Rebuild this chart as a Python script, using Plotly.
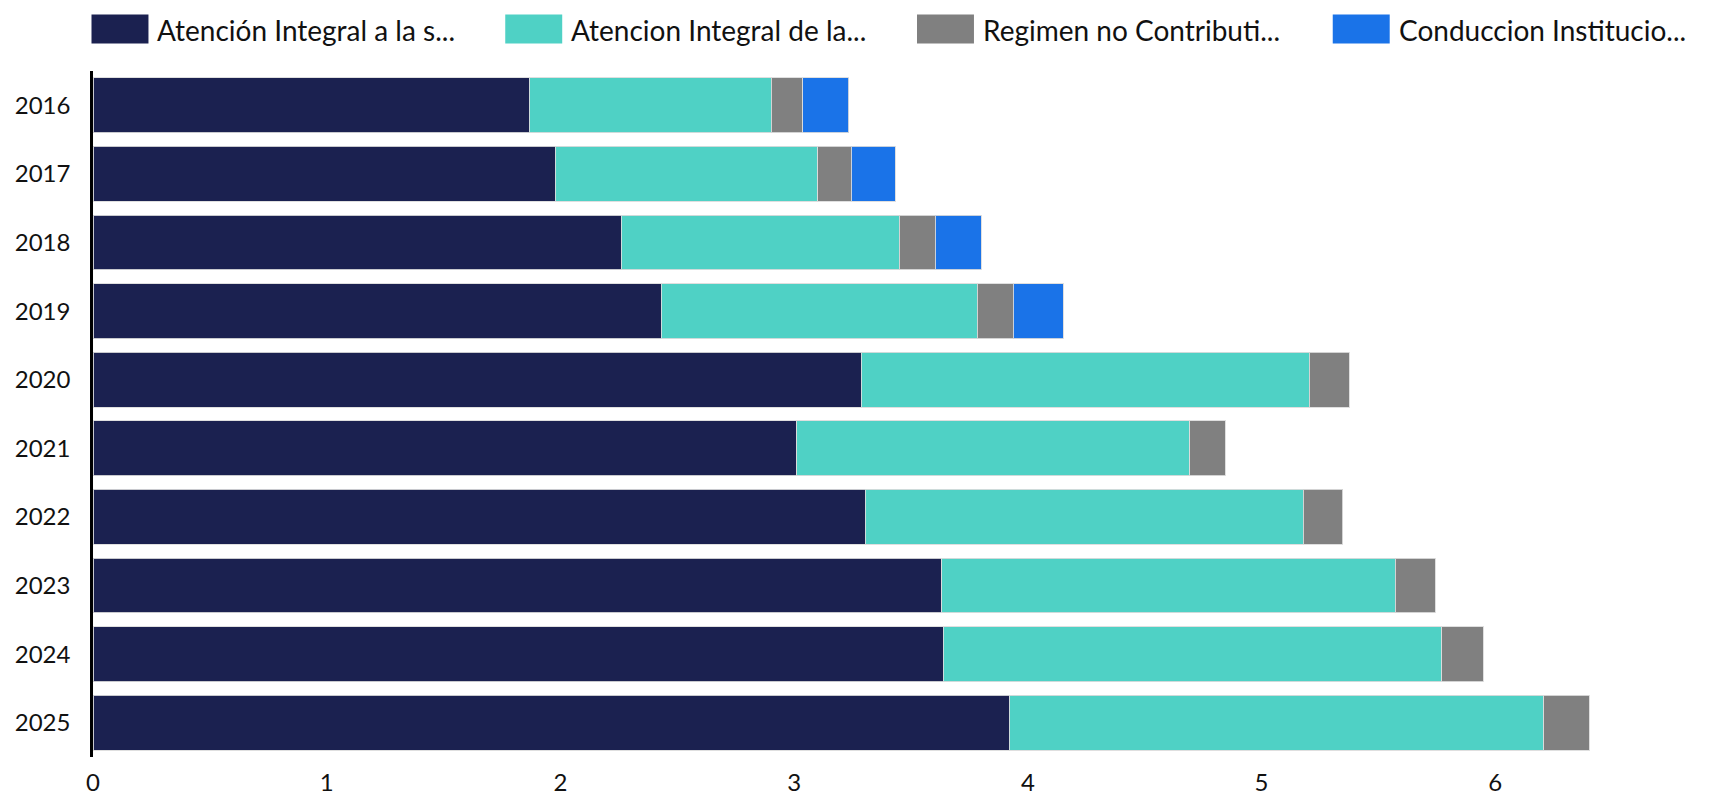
import plotly.graph_objects as go

years = ["2016", "2017", "2018", "2019", "2020", "2021", "2022", "2023", "2024", "2025"]
series_names = [
    "Atención Integral a la s...",
    "Atencion Integral de la...",
    "Regimen no Contributi...",
    "Conduccion Institucio...",
]
atencion_salud = [1.866, 1.978, 2.261, 2.431, 3.288, 3.012, 3.305, 3.632, 3.639, 3.921]
atencion_familia = [1.037, 1.122, 1.189, 1.353, 1.915, 1.681, 1.874, 1.940, 2.132, 2.287]
regimen = [0.134, 0.145, 0.154, 0.154, 0.172, 0.152, 0.169, 0.172, 0.177, 0.194]
conduccion = [0.197, 0.187, 0.197, 0.213, None, None, None, None, None, None]
colors = ["#1B2150", "#4FD1C5", "#808080", "#1A73E8"]
x_ticks = [0, 1, 2, 3, 4, 5, 6, 7]

# page body has an 8px offset; work in screen coordinates and compensate
OFF = 8
W, H = 1726, 796
P_L, P_R, P_T, P_B = 92.5, 1729.5, 71.4, 757.5  # plot area in screen px
ML, MT = P_L - OFF, P_T - OFF
MR = W - (P_R - OFF)
MB = H - (P_B - OFF)
PW, PH = P_R - P_L, P_B - P_T

fig = go.Figure()
for name, vals, col in zip(series_names, [atencion_salud, atencion_familia, regimen, conduccion], colors):
    fig.add_trace(go.Bar(
        y=years, x=vals, name=name, orientation="h",
        marker=dict(color=col, line=dict(color="rgba(220,220,220,0.9)", width=1)),
        showlegend=False,
    ))


def px_x(p):
    return (p - P_L) / PW


def px_y(p):
    return (P_B - p) / PH


# custom legend (large square swatches), screen coordinates
leg_x = [91, 505, 917, 1333]
for name, col, lx in zip(series_names, colors, leg_x):
    fig.add_shape(type="rect", xref="paper", yref="paper",
                  x0=px_x(lx), x1=px_x(lx + 57), y0=px_y(44), y1=px_y(15),
                  fillcolor=col, line=dict(width=0))
    fig.add_annotation(xref="paper", yref="paper", x=px_x(lx + 64), y=px_y(30),
                       text=name, showarrow=False, xanchor="left", yanchor="middle",
                       font=dict(family="Lato", size=28, color="#111"))

fig.update_layout(
    width=W, height=H,
    barmode="stack", bargap=0.2,
    plot_bgcolor="white", paper_bgcolor="white",
    margin=dict(l=ML, r=MR, t=MT, b=MB, autoexpand=False),
    font=dict(family="Lato", size=24, color="#111"),
    xaxis=dict(range=[0, 7], tickvals=x_ticks, showgrid=False, zeroline=False,
               showline=False, ticks="", ticklabelstandoff=9, automargin=False,
               ticklabeloverflow="allow", tickfont=dict(family="Lato", size=24)),
    yaxis=dict(autorange="reversed", showgrid=False, showline=True,
               linecolor="black", linewidth=2.5, ticks="", ticklabelstandoff=15,
               automargin=False, tickfont=dict(family="Lato", size=24)),
)

fig.write_html("out.html")
